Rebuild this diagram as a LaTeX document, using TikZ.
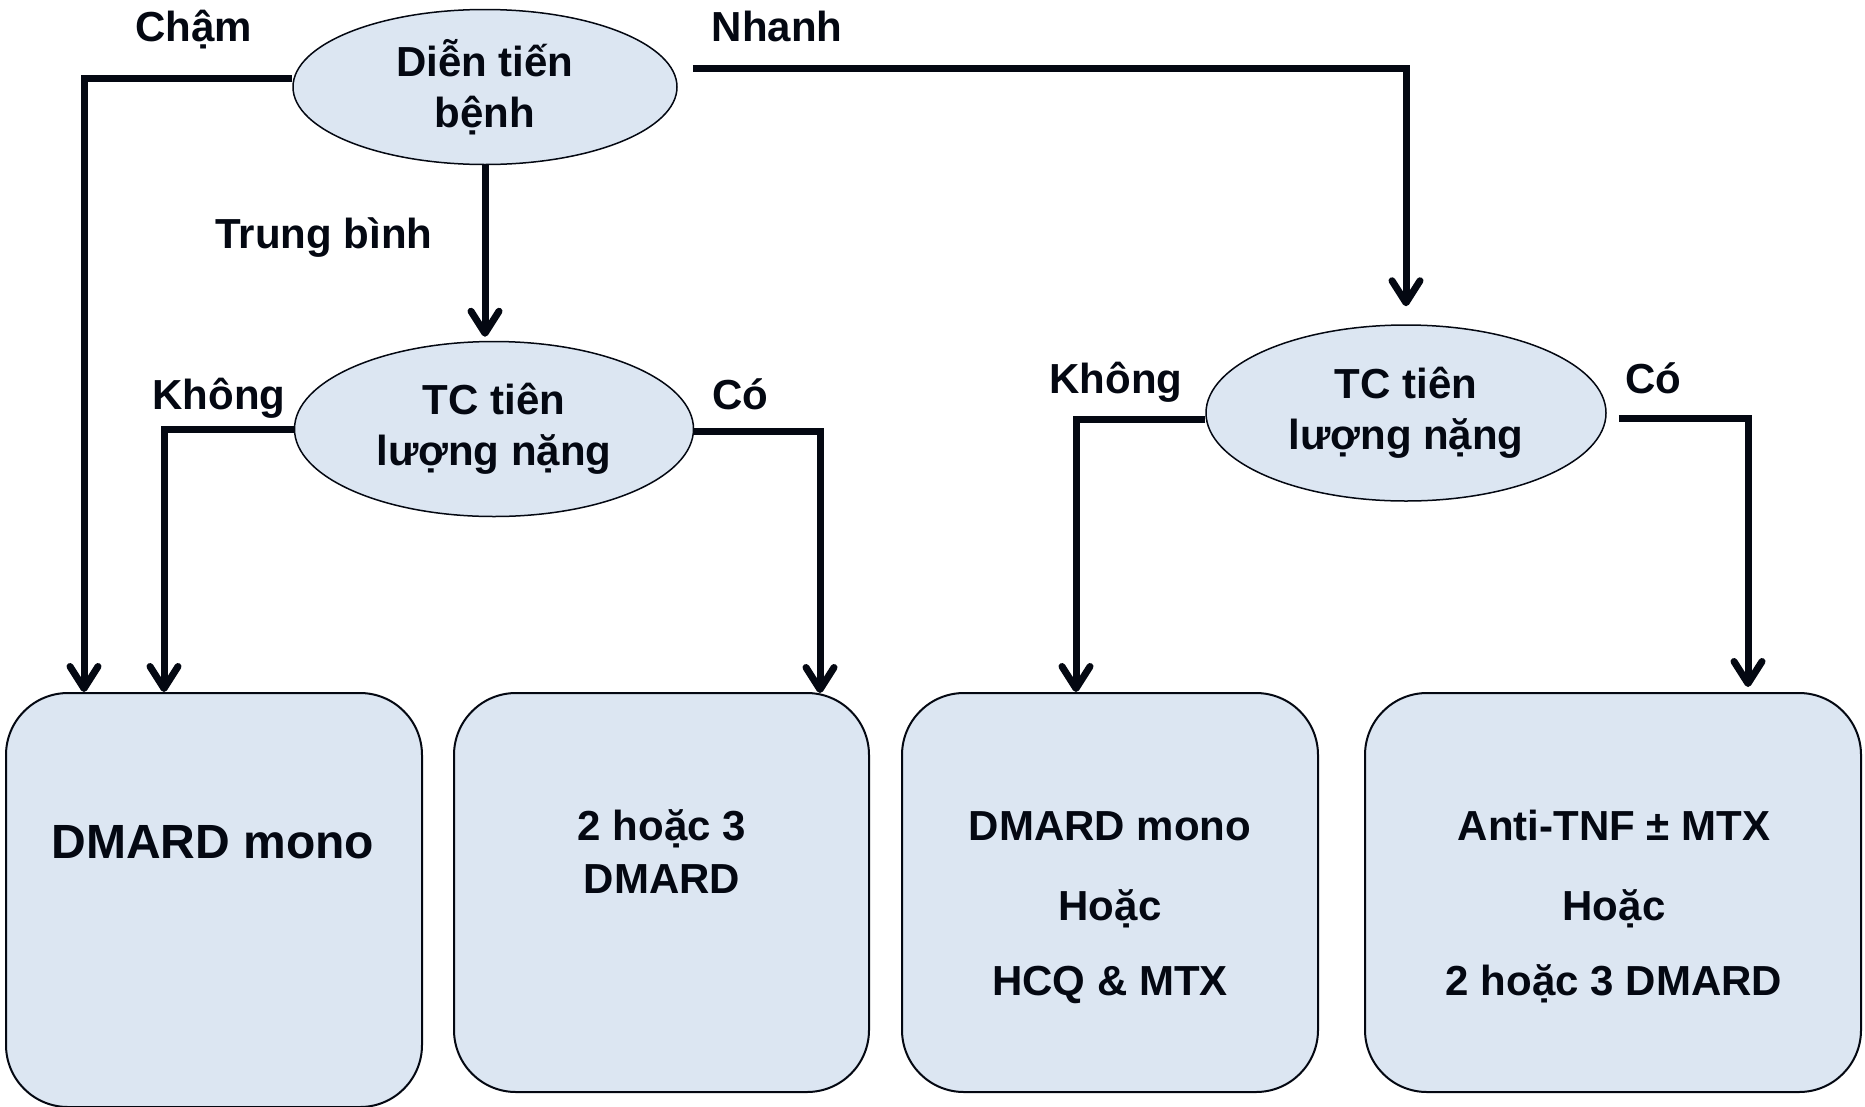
\documentclass[tikz,border=0pt]{standalone}
\usepackage{fontspec}
\setmainfont{Liberation Sans}
\usetikzlibrary{shapes.geometric,arrows.meta}
\definecolor{boxfill}{RGB}{220,230,242}
\definecolor{ink}{RGB}{4,8,18}
\begin{document}
\begin{tikzpicture}[x=1pt,y=-1pt,
  txt/.style={font=\bfseries\fontsize{42}{51}\selectfont, text=ink},
  decision/.style={ellipse, draw=ink, line width=1.5pt, fill=boxfill, inner sep=0pt, align=center, txt},
  outcome/.style={rectangle, rounded corners=62pt, draw=ink, line width=2pt, fill=boxfill, inner sep=0pt},
  conn/.style={draw=ink, line width=7pt, -{Straight Barb[length=22pt,width=28pt,round]}},
  lbl/.style={txt, anchor=base, inner sep=0pt},
  big/.style={font=\bfseries\fontsize{48}{58}\selectfont}]

% page frame
\fill[white] (0,0) rectangle (1865,1106);
\useasboundingbox (0,0) rectangle (1865,1106);
\clip (0,0) rectangle (1865,1106);

% decision ellipses
\node[decision, minimum width=384pt, minimum height=155pt] (dt) at (485,87) {Diễn tiến\\bệnh};
\node[decision, minimum width=399pt, minimum height=175pt] (tcA) at (494,429) {TC tiên\\lượng nặng};
\node[decision, minimum width=400pt, minimum height=176pt] (tcB) at (1406,413) {TC tiên\\lượng nặng};

% outcome boxes
\node[outcome, minimum width=416pt, minimum height=414pt] (b1) at (214,900) {};
\node[outcome, minimum width=415pt, minimum height=399pt] (b2) at (661.5,892.5) {};
\node[outcome, minimum width=416pt, minimum height=399pt] (b3) at (1110,892.5) {};
\node[outcome, minimum width=496pt, minimum height=399pt] (b4) at (1613,892.5) {};

% connectors from the first decision
\draw[conn] ([yshift=9pt]dt.west) -| (b1.north -| 84,0);
\draw[conn] (dt.south) -- ([yshift=4pt]dt.south |- tcA.north);
\draw[conn] ([xshift=15pt,yshift=19pt]dt.east) -| ([yshift=18pt]tcB.north);

% connectors from the moderate branch
\draw[conn] (tcA.west) -| (b1.north -| 164,0);
\draw[conn] ([yshift=-2pt]tcA.east) -| ([yshift=-1pt]b2.north -| 820,0);

% connectors from the fast branch
\draw[conn] ([yshift=-6pt]tcB.west) -| (b3.north -| 1076,0);
\draw[conn] ([xshift=12pt,yshift=-5pt]tcB.east) -| ([yshift=5pt]b4.north -| 1748,0);

% branch labels
\node[lbl] (lslow) at (194,41) {Chậm};
\node[lbl] (lfast) at (777,41) {Nhanh};
\node[lbl] (lmid) at (324,248) {Trung bình};
\node[lbl] (lnoA) at (219,409) {Không};
\node[lbl] (lyesA) at (740,409) {Có};
\node[lbl] (lnoB) at (1116,393) {Không};
\node[lbl] (lyesB) at (1653,393) {Có};

% box contents
\node[lbl, big] (t1) at (213,858) {DMARD mono};
\node[lbl] (t2a) at (662,840) {2 hoặc 3};
\node[lbl] (t2b) at (662,893) {DMARD};
\node[lbl] (t3a) at (1110,840) {DMARD mono};
\node[lbl] (t3b) at (1110,920) {Hoặc};
\node[lbl] (t3c) at (1110,995) {HCQ \& MTX};
\node[lbl] (t4a) at (1614,840) {Anti-TNF ± MTX};
\node[lbl] (t4b) at (1614,920) {Hoặc};
\node[lbl] (t4c) at (1614,995) {2 hoặc 3 DMARD};
\end{tikzpicture}
\end{document}
